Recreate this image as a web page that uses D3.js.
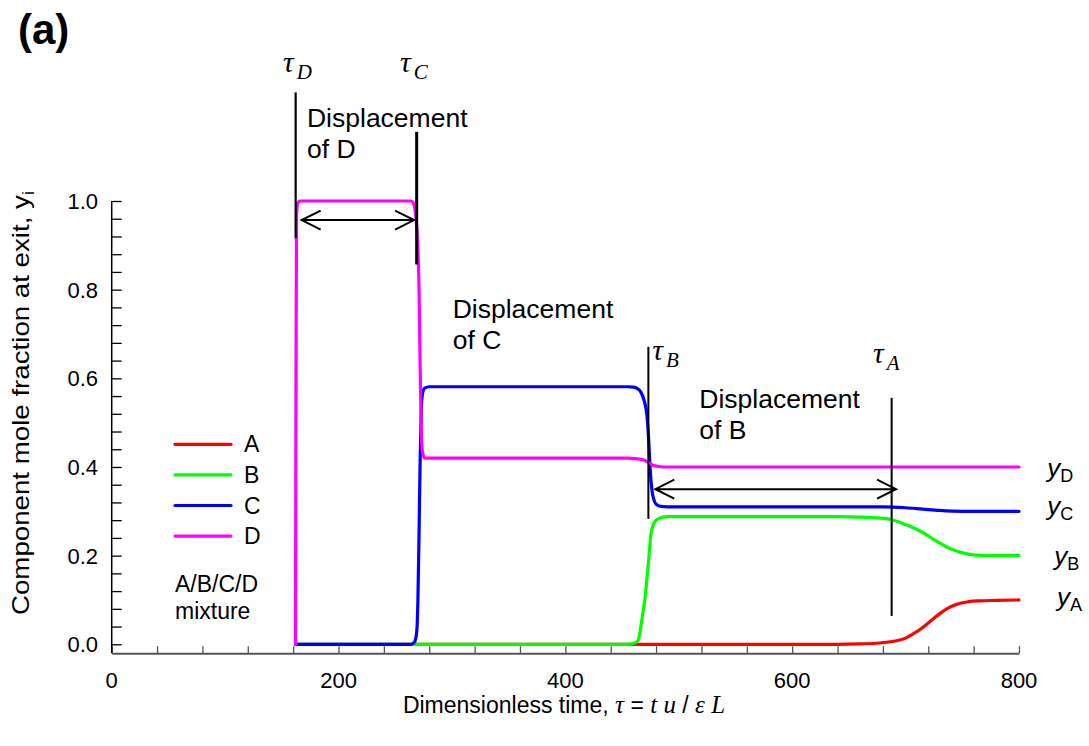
<!DOCTYPE html>
<html>
<head>
<meta charset="utf-8">
<script src="https://cdn.jsdelivr.net/npm/d3@7"></script>
<style>
  html, body { margin: 0; padding: 0; background: #fff; }
  svg text { font-family: "Liberation Sans", Arial, sans-serif; fill: #000; }
  .serif { font-family: "Liberation Serif", "Times New Roman", serif; font-style: italic; }
</style>
</head>
<body>
<svg id="chart" width="1089" height="746"></svg>
<script>
// Exit mole fractions vs. dimensionless time, [tau, y]
const seriesA = [[162,0],[640,0],[660,0.001],[677,0.003],[692,0.008],[700,0.014],[707,0.024],[713,0.034],[719,0.046],[725,0.059],[731,0.071],[737,0.081],[743,0.088],[749,0.093],[755,0.096],[765,0.098],[780,0.099],[800,0.1]];
const seriesB = [[162,0],[455,0],[460,0.002],[464,0.008],[466,0.03],[468,0.065],[470.4,0.107],[472,0.15],[473.2,0.183],[474.3,0.215],[475.2,0.243],[476.5,0.262],[479,0.277],[483.5,0.285],[490,0.288],[640,0.288],[660,0.287],[675,0.285],[688,0.281],[701,0.269],[710,0.259],[718.6,0.247],[725,0.236],[730.4,0.228],[736,0.22],[742,0.213],[748,0.208],[754,0.204],[762,0.201],[771.5,0.2],[800,0.2]];
const seriesC = [[162,0],[264,0],[267,0.005],[269,0.03],[270,0.1],[271,0.25],[272,0.42],[273,0.53],[274,0.565],[276,0.578],[280,0.581],[455,0.581],[460,0.58],[464,0.576],[467,0.567],[470,0.545],[472,0.515],[473.5,0.46],[474.5,0.41],[475.5,0.37],[476.5,0.345],[478,0.327],[480,0.316],[484,0.311],[490,0.31],[680,0.31],[700,0.308],[715,0.305],[730,0.302],[750,0.3],[800,0.3]];
const seriesD = [[162,0],[162.5,0.6],[163,0.97],[164,0.995],[166,1.0],[264,1.0],[266,0.995],[268,0.97],[270,0.89],[271,0.8],[272,0.62],[273,0.48],[274,0.435],[276,0.42],[455,0.42],[460,0.419],[465,0.418],[469,0.416],[472,0.412],[474.6,0.408],[477,0.404],[480.5,0.402],[486,0.4],[800,0.4]];

const seriesNames = ["A", "B", "C", "D"];
const seriesColors = ["#ff0000", "#00ff00", "#0000ff", "#ff00ff"];
const seriesData = [seriesA, seriesB, seriesC, seriesD];

const xTickValues = d3.range(0, 801, 40);
const xLabelValues = [0, 200, 400, 600, 800];
const yTickValues = d3.range(0, 26).map(i => +(i * 0.04).toFixed(2));
const yLabelValues = [0, 0.2, 0.4, 0.6, 0.8, 1.0];

// Characteristic times (tau_D, tau_C, tau_B, tau_A)
const tauMarks = [
  { sub: "D", tau: 162.2, y0: 0.916, y1: 1.245, w: 2.2, lx: 151,   ly: 1.291 },
  { sub: "C", tau: 268.9, y0: 0.857, y1: 1.156, w: 3,   lx: 254.2, ly: 1.291 },
  { sub: "B", tau: 473.2, y0: 0.283, y1: 0.671, w: 2,   lx: 476.6, ly: 0.641 },
  { sub: "A", tau: 687.7, y0: 0.064, y1: 0.556, w: 2,   lx: 671.3, ly: 0.634 }
];
const spanArrows = [
  { from: 167.5, to: 266.6, y: 0.957 },
  { from: 479.3, to: 691.6, y: 0.350 }
];
const displacementNotes = [
  { what: "D", tau: 172.2, y: 1.167 },
  { what: "C", tau: 300.7, y: 0.735 },
  { what: "B", tau: 518.1, y: 0.532 }
];
const endLabels = [
  { sub: "D", tau: 825.0, y: 0.378 },
  { sub: "C", tau: 825.0, y: 0.291 },
  { sub: "B", tau: 831.0, y: 0.179 },
  { sub: "A", tau: 833.5, y: 0.086 }
];

const svg = d3.select("#chart");
const x = d3.scaleLinear().domain([0, 800]).range([111.7, 1019]);
const y = d3.scaleLinear().domain([0, 1]).range([644.3, 201]);
const yBottom = -0.02;

// Axes
const gx = svg.append("g").attr("transform", `translate(0,${y(yBottom)})`)
  .call(d3.axisBottom(x).tickValues(xTickValues).tickSizeInner(-7).tickSizeOuter(0).tickFormat(""));
gx.select(".domain").attr("stroke", "#555").attr("stroke-width", 2);
gx.selectAll(".tick line").attr("stroke", "#555").attr("stroke-width", 1.3);

const gy = svg.append("g").attr("transform", `translate(${x(0)},0)`)
  .call(d3.axisLeft(y).tickValues(yTickValues).tickSizeInner(-10).tickSizeOuter(0).tickFormat(""));
gy.select(".domain").attr("d", `M0,${y(1)}V${y(yBottom)}`).attr("stroke", "#000").attr("stroke-width", 1.5);
gy.selectAll(".tick line").attr("stroke", "#000").attr("stroke-width", 1.3);

svg.append("g").selectAll("text").data(xLabelValues).join("text")
  .attr("x", d => x(d)).attr("y", 688).attr("text-anchor", "middle")
  .style("font-size", "22px").text(d => d3.format("d")(d));
svg.append("g").selectAll("text").data(yLabelValues).join("text")
  .attr("x", 98).attr("y", d => y(d) + 8).attr("text-anchor", "end")
  .style("font-size", "22px").text(d => d3.format(".1f")(d));

// Axis titles
const xt = svg.append("text").attr("x", 564).attr("y", 713).attr("text-anchor", "middle").style("font-size", "23px");
xt.append("tspan").text("Dimensionless time,  ");
xt.append("tspan").attr("class", "serif").style("font-size", "25px").text("\u03C4");
xt.append("tspan").text(" = ");
xt.append("tspan").attr("class", "serif").style("font-size", "25px").text("t u");
xt.append("tspan").text(" / ");
xt.append("tspan").attr("class", "serif").style("font-size", "25px").text("\u03B5 L");

const yt = svg.append("text").attr("transform", "translate(29,403) rotate(-90)")
  .attr("text-anchor", "middle").style("font-size", "24px")
  .attr("textLength", 424).attr("lengthAdjust", "spacingAndGlyphs");
yt.append("tspan").text("Component mole fraction at exit, y");
yt.append("tspan").attr("dy", 5).style("font-size", "16px").text("i");

// Panel tag
svg.append("text").attr("x", 18).attr("y", 44).style("font-size", "42px").style("font-weight", "bold").text("(a)");

// Curves
const line = d3.line().x(d => x(d[0])).y(d => y(d[1])).curve(d3.curveMonotoneX);
svg.append("g").selectAll("path").data(seriesData).join("path")
  .attr("d", line).attr("fill", "none")
  .attr("stroke", (d, i) => seriesColors[i]).attr("stroke-width", 3.2)
  .attr("stroke-linejoin", "round").attr("stroke-linecap", "round");

// Legend
const lg = svg.append("g");
seriesNames.forEach((n, i) => {
  const ly = 444.3 + i * 30.6;
  lg.append("line").attr("x1", 175).attr("x2", 231).attr("y1", ly).attr("y2", ly)
    .attr("stroke", seriesColors[i]).attr("stroke-width", 3.2).attr("stroke-linecap", "round");
  lg.append("text").attr("x", 244).attr("y", ly + 8).style("font-size", "23px").text(n);
});
lg.append("text").attr("x", 175).attr("y", 592).style("font-size", "23px").text("A/B/C/D");
lg.append("text").attr("x", 175).attr("y", 619).style("font-size", "23px").text("mixture");

// Characteristic time markers
tauMarks.forEach(m => {
  svg.append("line").attr("x1", x(m.tau)).attr("x2", x(m.tau))
    .attr("y1", y(m.y0)).attr("y2", y(m.y1)).attr("stroke", "#000").attr("stroke-width", m.w);
  const t = svg.append("text").attr("class", "serif").attr("x", x(m.lx)).attr("y", y(m.ly)).style("font-size", "30px");
  t.append("tspan").text("\u03C4");
  t.append("tspan").attr("dx", 3).attr("dy", 7).style("font-size", "21px").text(m.sub);
});

// Double-headed arrows spanning each displacement
spanArrows.forEach(a => {
  const x1 = x(a.from), x2 = x(a.to), yy = y(a.y), L = 19, h = 9.5;
  svg.append("path")
    .attr("d", `M${x1},${yy}H${x2}M${x1 + L},${yy - h}L${x1},${yy}L${x1 + L},${yy + h}M${x2 - L},${yy - h}L${x2},${yy}L${x2 - L},${yy + h}`)
    .attr("fill", "none").attr("stroke", "#000").attr("stroke-width", 2);
});

displacementNotes.forEach(n => {
  const t = svg.append("text").attr("x", x(n.tau)).attr("y", y(n.y)).style("font-size", "26.5px");
  t.append("tspan").text("Displacement");
  t.append("tspan").attr("x", x(n.tau)).attr("dy", 31).text("of " + n.what);
});

// End-of-run labels
endLabels.forEach(l => {
  const t = svg.append("text").attr("x", x(l.tau)).attr("y", y(l.y)).style("font-size", "26px");
  t.append("tspan").style("font-style", "italic").text("y");
  t.append("tspan").attr("dy", 5).style("font-size", "18px").text(l.sub);
});
</script>
</body>
</html>
